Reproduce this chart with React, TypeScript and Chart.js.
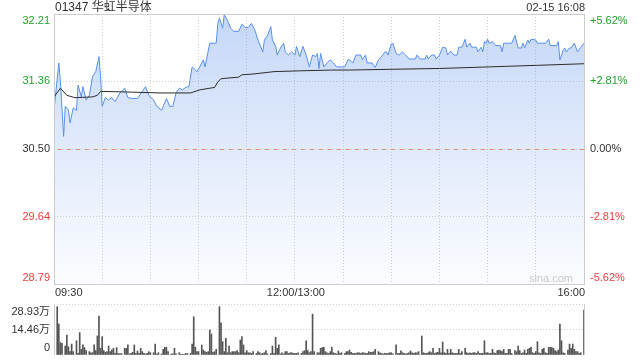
import React, { useEffect, useRef } from "react";
import { Chart, registerables } from "chart.js";

Chart.register(...registerables);

// ---------- data ----------
const TITLE = "01347 华虹半导体";
const DATE_LABEL = "02-15 16:08";
const WATERMARK = "sina.com";
const PREV_CLOSE = 30.5;
const PRICE_MIN = 28.79;
const PRICE_MAX = 32.21;
const TOTAL_MINUTES = 330; // 09:30-12:00 + 13:00-16:00

const priceTicks = [28.79, 29.64, 30.5, 31.36, 32.21];
const pctTicks = ["-5.62%", "-2.81%", "0.00%", "+2.81%", "+5.62%"];
const gridMinutes = [0, 30, 60, 90, 120, 150, 180, 210, 240, 270, 300, 330];
const timeLabels = ["09:30", "12:00/13:00", "16:00"];
const timeLabelMinutes = [0, 150, 330];

// minutes since 09:30 (lunch break removed)
const priceMinutes = [
  0, 3, 4, 6, 7, 9, 10, 12, 14, 15, 17, 18, 20, 22, 24, 26, 28, 29, 30, 32, 34, 36, 38, 41, 44, 46, 49, 52, 55, 57,
  59, 62, 64, 67, 70, 72, 74, 76, 78, 80, 82, 84, 86, 89, 91, 93, 94, 97, 101, 102, 103, 105, 106, 108, 110, 112, 115,
  117, 119, 121, 123, 125, 127, 129, 130, 131, 133, 135, 136, 138, 139, 141, 143, 144, 146, 148, 150, 151, 153, 155,
  157, 159, 161, 163, 164, 165, 166, 168, 170, 172, 174, 176, 181, 183, 184, 186, 188, 191, 192, 194, 195, 198, 200,
  202, 204, 206, 207, 208, 210, 211, 213, 215, 217, 219, 221, 225, 226, 228, 231, 232, 233, 235, 237, 238, 240, 242,
  244, 245, 247, 249, 251, 252, 254, 256, 257, 259, 260, 263, 264, 266, 267, 268, 269, 270, 271, 273, 275, 278, 279,
  280, 283, 285, 287, 289, 291, 292, 293, 295, 296, 297, 300, 301, 306, 308, 309, 313, 314, 315, 317, 318, 319, 321,
  322, 324, 326, 328, 330,
];
const prices = [
  30.99, 31.59, 31.35, 30.66, 31.04, 30.99, 30.83, 31.02, 30.99, 31.31, 31.16, 31.29, 31.12, 31.18, 31.42, 31.48, 31.67,
  31.42, 31.04, 31.15, 31.12, 31.15, 31.1, 31.21, 31.27, 31.15, 31.14, 31.14, 31.23, 31.29, 31.18, 31.12, 31.04, 30.99,
  31.14, 31.04, 31.04, 31.21, 31.27, 31.25, 31.28, 31.29, 31.54, 31.48, 31.55, 31.63, 31.54, 31.84, 31.84, 32.09, 32.16,
  32.03, 32.2, 32.13, 32.03, 31.99, 31.99, 32.08, 32.04, 32.04, 32.09, 32.01, 31.88, 31.78, 31.73, 31.88, 31.94, 32.05,
  31.88, 31.8, 31.69, 31.78, 31.84, 31.73, 31.69, 31.73, 31.69, 31.8, 31.67, 31.8, 31.69, 31.54, 31.69, 31.67, 31.71,
  31.52, 31.71, 31.54, 31.59, 31.63, 31.59, 31.54, 31.54, 31.63, 31.63, 31.59, 31.69, 31.69, 31.63, 31.69, 31.59, 31.59,
  31.53, 31.63, 31.67, 31.73, 31.73, 31.69, 31.83, 31.84, 31.71, 31.69, 31.73, 31.69, 31.64, 31.64, 31.69, 31.64, 31.64,
  31.69, 31.64, 31.69, 31.69, 31.64, 31.69, 31.79, 31.78, 31.69, 31.74, 31.69, 31.69, 31.79, 31.79, 31.89, 31.79, 31.84,
  31.79, 31.79, 31.73, 31.79, 31.73, 31.86, 31.84, 31.89, 31.84, 31.86, 31.81, 31.81, 31.73, 31.84, 31.84, 31.84, 31.94,
  31.78, 31.78, 31.84, 31.78, 31.88, 31.84, 31.89, 31.88, 31.84, 31.84, 31.89, 31.81, 31.81, 31.86, 31.63, 31.75, 31.78,
  31.73, 31.78, 31.78, 31.84, 31.73, 31.79, 31.84,
];

const avgMinutes = [0, 4, 8, 13, 24, 27, 29, 49, 66, 85, 91, 97, 100, 102, 104, 109, 115, 117, 124, 137, 153, 173, 184, 211, 240, 271, 301, 330];
const avgPrices = [
  31.16, 31.27, 31.18, 31.15, 31.16, 31.18, 31.23, 31.22, 31.21, 31.21, 31.25, 31.27, 31.28, 31.35, 31.39, 31.4, 31.41,
  31.44, 31.45, 31.48, 31.49, 31.5, 31.5, 31.51, 31.52, 31.54, 31.56, 31.58,
];

// volume in 万 shares
const VOL_MAX = 28.93;
const volTicks = [0, 14.465, 28.93];
const volTickLabels = ["0", "14.46万", "28.93万"];
const volMinutes = [
  0, 2, 3, 4, 5, 7, 8, 9, 10, 11, 12, 14, 15, 16, 17, 18, 19, 20, 22, 23, 24, 25, 26, 27, 28, 29, 30, 31, 32, 33, 34, 35,
  36, 37, 38, 39, 40, 41, 42, 44, 45, 46, 47, 48, 49, 50, 51, 52, 53, 54, 55, 56, 57, 58, 59, 60, 62, 63, 64, 65, 67, 68,
  69, 70, 71, 73, 74, 75, 76, 78, 79, 80, 81, 82, 83, 85, 86, 87, 88, 89, 90, 92, 93, 94, 95, 96, 97, 98, 99, 100, 101,
  103, 104, 105, 106, 107, 108, 109, 110, 111, 112, 113, 114, 115, 116, 117, 118, 119, 120, 121, 122, 123, 124, 126, 127,
  128, 129, 130, 131, 132, 133, 135, 136, 137, 138, 139, 140, 141, 142, 143, 144, 145, 146, 147, 148, 149, 150, 151, 152,
  154, 155, 156, 157, 158, 159, 160, 161, 162, 164, 165, 166, 167, 168, 169, 170, 171, 172, 173, 174, 175, 176, 177, 178,
  179, 181, 182, 183, 184, 185, 186, 187, 188, 189, 190, 191, 192, 193, 194, 195, 196, 197, 198, 199, 200, 202, 203, 204,
  205, 206, 207, 208, 209, 210, 211, 213, 214, 215, 216, 217, 218, 219, 220, 221, 222, 223, 224, 225, 226, 227, 229, 230,
  231, 232, 233, 234, 235, 236, 237, 238, 239, 240, 241, 242, 243, 244, 245, 246, 247, 248, 249, 250, 251, 252, 253, 254,
  256, 257, 258, 259, 260, 261, 262, 263, 264, 265, 266, 267, 268, 269, 270, 271, 272, 273, 274, 275, 276, 277, 278, 279,
  280, 281, 282, 283, 284, 285, 287, 288, 289, 290, 291, 292, 293, 294, 295, 296, 297, 298, 299, 300, 301, 302, 303, 304,
  305, 306, 307, 308, 309, 310, 311, 312, 313, 314, 315, 316, 317, 318, 320, 321, 322, 323, 324, 325, 326, 327, 328, 330,
];
const volumes = [
  28.93, 27.4, 17.6, 7.0, 6.6, 5.1, 11.3, 4.7, 1.9, 6.2, 1.9, 8.1, 0.9, 12.7, 3.2, 5.7, 4.2, 2.5, 1.9, 1.3, 1.3, 5.7, 2.5,
  10.8, 22.1, 3.8, 10.4, 2.5, 1.5, 1.9, 5.1, 1.9, 2.8, 3.8, 0.9, 4.2, 0.9, 0.6, 0.9, 3.8, 3.8, 5.7, 0.6, 0.9, 1.5, 5.7,
  0.9, 2.3, 0.9, 3.8, 1.9, 0.9, 0.6, 0.9, 1.9, 1.3, 1.3, 6.2, 0.6, 1.3, 0.6, 3.2, 4.4, 4.4, 1.9, 0.6, 0.6, 3.8, 0.6, 1.3,
  0.1, 0.4, 0.2, 0.9, 0.9, 0.9, 6.2, 21.7, 4.4, 1.9, 1.9, 5.7, 2.8, 1.9, 1.5, 1.9, 14.2, 11.9, 1.5, 1.9, 3.2, 27.4, 18.3,
  7.6, 1.9, 9.5, 1.3, 5.1, 1.3, 1.9, 1.9, 1.9, 2.5, 1.3, 8.5, 10.4, 5.7, 1.3, 2.5, 1.3, 1.3, 0.9, 1.9, 0.9, 1.9, 1.3, 0.6,
  0.9, 1.3, 2.5, 0.6, 0.9, 5.1, 0.9, 10.0, 3.8, 5.7, 0.6, 1.3, 0.6, 1.9, 1.9, 0.9, 1.3, 1.3, 0.9, 0.9, 0.9, 1.3, 0.9, 1.9,
  2.5, 8.1, 2.5, 1.3, 1.9, 23.2, 1.9, 1.3, 1.3, 3.8, 4.2, 4.4, 1.9, 1.3, 0.9, 1.9, 4.4, 1.3, 0.9, 0.6, 2.3, 0.9, 1.3, 0.9,
  1.9, 1.9, 2.8, 1.5, 0.9, 0.9, 0.9, 1.3, 1.3, 0.9, 1.3, 1.3, 0.9, 0.9, 1.9, 1.5, 1.5, 1.9, 3.2, 1.9, 1.3, 0.9, 0.6, 0.9,
  0.9, 0.9, 1.3, 1.3, 0.6, 5.7, 0.9, 0.9, 2.3, 1.3, 0.9, 0.6, 0.9, 1.3, 2.3, 1.3, 0.9, 1.3, 1.3, 1.9, 10.8, 1.3, 0.9, 0.9,
  1.3, 1.9, 1.3, 3.8, 0.9, 1.3, 1.5, 3.8, 1.3, 7.4, 1.3, 0.9, 3.2, 0.9, 3.2, 1.3, 0.9, 0.9, 0.9, 3.2, 0.9, 1.9, 3.8, 1.3,
  0.9, 1.3, 0.9, 1.3, 1.3, 0.9, 1.9, 0.9, 0.9, 0.9, 8.1, 1.3, 1.3, 0.9, 0.9, 3.2, 1.3, 0.9, 2.5, 2.8, 2.5, 1.9, 3.2, 0.9,
  0.9, 3.2, 3.2, 0.9, 2.5, 1.9, 5.1, 2.5, 0.9, 1.3, 2.8, 0.9, 3.2, 3.8, 4.4, 1.3, 0.9, 1.9, 7.6, 1.3, 0.9, 3.2, 3.8, 1.3,
  0.9, 4.4, 4.4, 4.2, 3.8, 2.5, 1.9, 2.8, 17.6, 8.1, 1.3, 0.9, 2.8, 6.2, 3.8, 6.2, 3.2, 1.9, 1.9, 0.9, 1.3, 25.5,
];

// ---------- styling helpers ----------
const FONT = "'Liberation Sans', Arial, 'Noto Sans CJK SC', sans-serif";
const UP = "#1ea52a";
const DOWN = "#f23b3b";
const FLAT = "#333333";
const GRID = "#cfcfcf";
const FRAME = "#cccccc";

function labelColor(v: number) {
  if (v > PREV_CLOSE + 1e-9) return UP;
  if (v < PREV_CLOSE - 1e-9) return DOWN;
  return FLAT;
}

const priceDecor = {
  id: "priceDecor",
  afterDraw(chart: any) {
    const { ctx, chartArea: a, scales } = chart;
    const y = scales.y;
    const x = scales.x;
    ctx.save();
    // previous close dashed line
    const yc = Math.round(y.getPixelForValue(PREV_CLOSE)) + 0.5;
    ctx.strokeStyle = "#e8906a";
    ctx.lineWidth = 1;
    ctx.setLineDash([4, 5]);
    ctx.beginPath();
    ctx.moveTo(a.left + 4, yc);
    ctx.lineTo(a.right, yc);
    ctx.stroke();
    ctx.setLineDash([]);
    // frame
    ctx.strokeStyle = FRAME;
    ctx.strokeRect(Math.round(a.left) + 0.5, Math.round(a.top) + 0.5, Math.round(a.right - a.left), Math.round(a.bottom - a.top));
    // axis labels
    ctx.font = `11px ${FONT}`;
    ctx.textBaseline = "middle";
    priceTicks.forEach((v, i) => {
      let py = y.getPixelForValue(v);
      py = Math.min(a.bottom - 6, Math.max(a.top + 7, py));
      ctx.fillStyle = labelColor(v);
      ctx.textAlign = "right";
      ctx.fillText(v.toFixed(2), a.left - 4, py);
      ctx.textAlign = "left";
      ctx.fillText(pctTicks[i], a.right + 6, py);
    });
    // time labels
    ctx.fillStyle = FLAT;
    timeLabels.forEach((t, i) => {
      const px = x.getPixelForValue(timeLabelMinutes[i]);
      ctx.textAlign = i === 0 ? "left" : i === timeLabels.length - 1 ? "right" : "center";
      ctx.fillText(t, px + 1, a.bottom + 9);
    });
    // title & date
    ctx.font = `12px ${FONT}`;
    ctx.textAlign = "left";
    ctx.fillStyle = FLAT;
    ctx.fillText(TITLE, a.left + 1, 8);
    ctx.font = `11px ${FONT}`;
    ctx.textAlign = "right";
    ctx.fillText(DATE_LABEL, a.right + 1, 8);
    // watermark
    ctx.fillStyle = "#c9c9c9";
    ctx.fillText(WATERMARK, a.right - 11, a.bottom - 5);
    ctx.restore();
  },
};

const volDecor = {
  id: "volDecor",
  afterDraw(chart: any) {
    const { ctx, chartArea: a, scales } = chart;
    const y = scales.y;
    ctx.save();
    ctx.strokeStyle = FRAME;
    ctx.lineWidth = 1;
    ctx.beginPath();
    const lx = Math.round(a.left) + 0.5;
    const rx = Math.round(a.right) + 0.5;
    ctx.moveTo(lx, a.top);
    ctx.lineTo(lx, a.bottom);
    ctx.moveTo(rx, a.top);
    ctx.lineTo(rx, a.bottom);
    ctx.stroke();
    ctx.font = `11px ${FONT}`;
    ctx.textBaseline = "middle";
    ctx.textAlign = "right";
    ctx.fillStyle = FLAT;
    volTicks.forEach((v, i) => {
      let py = y.getPixelForValue(v);
      py = Math.min(a.bottom - 7, Math.max(a.top + 8, py));
      ctx.fillText(volTickLabels[i], a.left - 4, py);
    });
    ctx.restore();
  },
};

export default function App() {
  const priceRef = useRef<HTMLCanvasElement | null>(null);
  const volRef = useRef<HTMLCanvasElement | null>(null);

  useEffect(() => {
    const priceChart = new Chart(priceRef.current as HTMLCanvasElement, {
      type: "line",
      data: {
        datasets: [
          {
            data: avgMinutes.map((m, i) => ({ x: m, y: avgPrices[i] })),
            borderColor: "#2b2b2b",
            borderWidth: 1,
            pointRadius: 0,
            fill: false,
            tension: 0,
            order: 1,
          },
          {
            data: priceMinutes.map((m, i) => ({ x: m, y: prices[i] })),
            borderColor: "#5790ef",
            borderWidth: 1,
            pointRadius: 0,
            tension: 0,
            fill: "start",
            order: 2,
            backgroundColor: (c: any) => {
              const chart = c.chart;
              const area = chart.chartArea;
              if (!area) return "rgba(120,160,235,0.25)";
              const g = chart.ctx.createLinearGradient(0, area.top, 0, area.bottom);
              g.addColorStop(0, "rgba(100,150,235,0.38)");
              g.addColorStop(1, "rgba(120,160,240,0.03)");
              return g;
            },
          } as any,
        ],
      },
      options: {
        animation: false,
        responsive: false,
        maintainAspectRatio: false,
        events: [],
        layout: { padding: { top: 14, left: 0, right: 56, bottom: 0 } },
        plugins: { legend: { display: false }, tooltip: { enabled: false } },
        scales: {
          x: {
            type: "linear",
            min: 0,
            max: TOTAL_MINUTES,
            afterBuildTicks: (s: any) => {
              s.ticks = gridMinutes.map((v) => ({ value: v }));
            },
            afterFit: (s: any) => {
              s.height = 16;
            },
            ticks: { display: false },
            grid: { color: GRID, lineWidth: 1, drawTicks: false },
            border: { display: false, dash: [1, 2] },
          },
          y: {
            type: "linear",
            position: "left",
            min: PRICE_MIN,
            max: PRICE_MAX,
            afterBuildTicks: (s: any) => {
              s.ticks = priceTicks.map((v) => ({ value: v }));
            },
            afterFit: (s: any) => {
              s.width = 54;
            },
            ticks: { display: false },
            grid: { color: GRID, lineWidth: 1, drawTicks: false },
            border: { display: false, dash: [1, 2] },
          },
        },
      } as any,
      plugins: [priceDecor],
    });

    const volChart = new Chart(volRef.current as HTMLCanvasElement, {
      type: "bar",
      data: {
        datasets: [
          {
            data: volMinutes.map((m, i) => ({ x: m, y: volumes[i] })),
            backgroundColor: "#555555",
            borderWidth: 0,
            barThickness: 1,
          } as any,
        ],
      },
      options: {
        animation: false,
        responsive: false,
        maintainAspectRatio: false,
        events: [],
        layout: { padding: { top: 8, left: 0, right: 56, bottom: 5 } },
        plugins: { legend: { display: false }, tooltip: { enabled: false } },
        scales: {
          x: {
            type: "linear",
            min: 0,
            max: TOTAL_MINUTES,
            offset: false,
            display: false,
            grid: { display: false, offset: false },
          },
          y: {
            type: "linear",
            position: "left",
            min: 0,
            max: VOL_MAX,
            afterBuildTicks: (s: any) => {
              s.ticks = volTicks.map((v) => ({ value: v }));
            },
            afterFit: (s: any) => {
              s.width = 54;
            },
            ticks: { display: false },
            grid: {
              color: (c: any) => (c.tick && c.tick.value === 0 ? "rgba(0,0,0,0)" : GRID),
              lineWidth: 1,
              drawTicks: false,
            },
            border: { display: false, dash: [1, 2] },
          },
        },
      } as any,
      plugins: [volDecor],
    });

    return () => {
      priceChart.destroy();
      volChart.destroy();
    };
  }, []);

  return (
    <div style={{ position: "absolute", left: 0, top: 0, width: 640, height: 360, background: "#fff", overflow: "hidden" }}>
      <canvas
        ref={priceRef}
        width={640}
        height={300}
        style={{ position: "absolute", left: 0, top: 0, width: 640, height: 300 }}
      />
      <canvas
        ref={volRef}
        width={640}
        height={64}
        style={{ position: "absolute", left: 0, top: 296, width: 640, height: 64 }}
      />
    </div>
  );
}
